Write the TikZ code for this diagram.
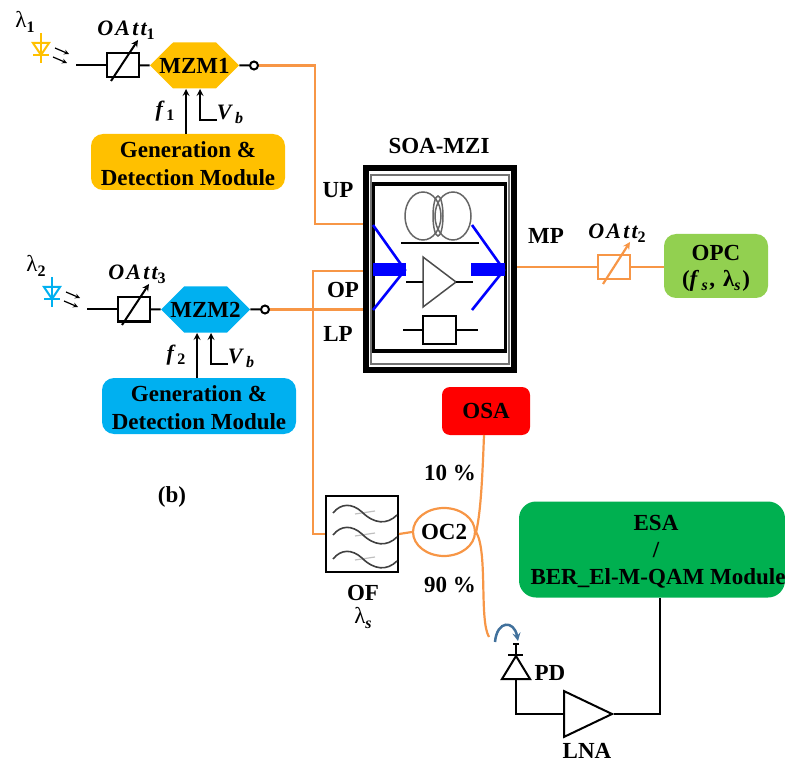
\documentclass[tikz,border=0pt]{standalone}
\usepackage{fontspec}
\setmainfont{Liberation Serif}
\newfontfamily\symfont[LetterSpace=10]{Liberation Serif}
\usetikzlibrary{shapes.geometric,shapes.symbols}
\definecolor{fibre}{HTML}{F79646}
\definecolor{ledyellow}{HTML}{FFC000}
\definecolor{ledblue}{HTML}{00B0F0}
\definecolor{opcgreen}{HTML}{92D050}
\definecolor{esagreen}{HTML}{00B050}
\definecolor{turncol}{HTML}{41719C}
\newcommand{\sublab}[1]{\raisebox{-.4ex}{\fontsize{16}{16}\selectfont #1}}
\newcommand{\symlab}[2]{{\symfont\bfseries\itshape #1\sublab{#2}}}
\tikzset{
  lab/.style={font=\fontsize{23}{27}\selectfont\bfseries, inner sep=0pt, align=center},
  symb/.style={font=\fontsize{22}{24}\selectfont, inner sep=0pt},
  wire/.style={line width=2pt, black},
  fib/.style={line width=2.2pt, fibre},
  module/.style={rounded corners=12pt, minimum width=#1, inner sep=0pt},
  attbox/.style={draw, line width=2pt, minimum width=32pt, minimum height=24pt, inner sep=0pt},
  mzm/.style={signal, signal to=east and west, signal pointer angle=90, minimum width=89pt,
    minimum height=46pt, inner sep=0pt, font=\fontsize{23}{26}\selectfont\bfseries},
  beam/.style={line width=2.6pt, blue},
}
\begin{document}
\begin{tikzpicture}[>=stealth, x=1pt, y=-1pt]
  \useasboundingbox (0,0) rectangle (785,762);
  % Two transmitter branches
  \foreach \i/\dx/\dy/\col/\att in {1/0/0/ledyellow/1, 2/11/244/ledblue/3} {
    \begin{scope}[shift={(\dx,\dy)}]
      % Laser diode
      \draw[line width=2pt, \col] (41,33) -- (41,63) (33,55) -- (49,55);
      \draw[line width=2pt, \col] (33,43) -- (49,43) -- (41,55) -- cycle;
      \draw[->, line width=1.2pt] (55,48) -- (69,54);
      \draw[->, line width=1.2pt] (53,57) -- (67,63);
      \node[lab, font=\fontsize{23}{24}\selectfont] (lam\i) at (25,22) {λ\sublab{\textbf{\i}}};
      % Attenuator and modulator
      \coordinate (in\i) at (76,65.5);
      \node[attbox] (att\i) at (123,65.5) {};
      \draw[->, wire] (111,81) -- (138,40);
      \node[symb] (attlab\i) at (126,30) {\symlab{OAtt}{\upshape\att}};
      \node[mzm, fill=\col] (mzm\i) at (194.5,65.5) {\makebox[0pt]{MZM\i}};
      \node[circle, draw, line width=2pt, minimum size=8pt, inner sep=0pt] (tap\i) at (254,65.5) {};
      \draw[wire] (in\i) -- (att\i);
      \draw[wire] (att\i) -- (mzm\i);
      \draw[wire] (mzm\i) -- (tap\i);
      % Driver module
      \node[module=194pt, fill=\col, minimum height=56pt] (gen\i) at (188,162) {};
      \node[lab] (genlab\i) at (188,150) {Generation \&};
      \node[lab] (detlab\i) at (188,178) {Detection Module};
      \coordinate (fin\i) at (186,89);
      \coordinate (vin\i) at (200,89);
      \coordinate (vbias\i) at (217,120);
      \draw[->, wire] (gen\i.north -| fin\i) -- (fin\i);
      \draw[->, wire] (vbias\i) -| (vin\i);
      \node[symb] (flab\i) at (165,111) {\symlab{f\,}{\upshape\i}};
      \node[symb] (vlab\i) at (230,114) {\symlab{V\,}{b}};
    \end{scope}
  }
  % SOA-MZI block
  \node[lab] (soalab) at (439,146) {SOA-MZI};
  \node[draw, line width=6pt, minimum width=148pt, minimum height=202pt, inner sep=0pt] (soa) at (440,269) {};
  \draw[line width=1.2pt, black!55] (371,175) rectangle (509,364);
  \draw[line width=3.5pt] (373.5,184) rectangle (505.5,351);
  % Coupler
  \draw[line width=1.5pt, black!60] (423,216) ellipse (18 and 24) (453,216) ellipse (18 and 24);
  \draw[line width=1.5pt, black!60] (438,216) ellipse (5 and 20);
  \draw[line width=2.5pt] (401,243) -- (479,243);
  % SOA
  \draw[line width=1.5pt, black!70] (423,257) -- (456,282) -- (423,307) -- cycle;
  \draw[line width=2.5pt] (406,282) -- (423,282) (456,282) -- (473,282);
  % Phase section
  \draw[line width=2.5pt] (423,316) rectangle (456,344);
  \draw[line width=2.5pt] (403,330) -- (423,330) (456,330) -- (478,330);
  % Pump and output beams
  \draw[beam] (373,225) -- (405,270) -- (373,310);
  \draw[line width=13pt, blue] (373,270) -- (406,270);
  \draw[beam] (472,225) -- (504,270) -- (472,310);
  \draw[line width=13pt, blue] (471,270) -- (505,270);
  % Ports
  \coordinate (upbend) at (315,224);
  \coordinate (upport) at (363,224);
  \coordinate (opport) at (363,271);
  \coordinate (opbend) at (313,271);
  \coordinate (lpport) at (363,309.5);
  \coordinate (mpport) at (517,267);
  \node[lab] (uplab) at (338,190) {UP};
  \node[lab] (oplab) at (343,290) {OP};
  \node[lab] (lplab) at (338,334) {LP};
  \node[lab] (mplab) at (546,236) {MP};
  \draw[fib] (tap1.east) -| (upbend) -- (upport);
  \draw[fib] (tap2.east) -- (lpport);
  % Output side
  \node[attbox, draw=fibre] (outatt) at (614,267) {};
  \draw[->, fib] (603,284) -- (630,242);
  \node[symb] (outattlab) at (617,233) {\symlab{OAtt}{\upshape 2}};
  \node[module=104pt, fill=opcgreen, minimum height=64pt] (opc) at (716,266) {};
  \node[lab] (opclab) at (716,253) {OPC};
  \node[lab] (opcsub) at (716,281) {{\symfont\bfseries(\textit{f}\sublab{\textit{s}}, λ\sublab{\textit{s}})}};
  \draw[fib] (mpport) -- (outatt);
  \draw[fib] (outatt) -- (outatt -| opc.west);
  % Filter
  \node[draw, line width=2pt, minimum width=72pt, minimum height=76pt, inner sep=0pt] (of) at (362,534) {};
  \foreach \wy in {0,22,46} {
    \draw[black!25, line width=1.2pt] (355,514+\wy) -- (375,511+\wy);
    \draw[black!75, line width=1.6pt] (333,513+\wy) .. controls (341,503+\wy) and (352,503+\wy) .. (362,512+\wy)
      .. controls (374,524+\wy) and (387,525+\wy) .. (397,515+\wy);
  }
  \node[lab] (oflab) at (363,593) {OF};
  \node[lab, font=\fontsize{23}{24}\selectfont] (oflam) at (363,618) {λ\sublab{\textbf{\textit{s}}}};
  % Coupler and receivers
  \node[ellipse, draw=fibre, line width=2.2pt, minimum width=62pt, minimum height=48pt, inner sep=0pt, font=\fontsize{23}{26}\selectfont\bfseries] (oc) at (444,532) {\makebox[0pt]{OC2}};
  \draw[fib] (opport) -- (opbend) |- (of.west);
  \draw[fib] (of.east) -- (oc.west);
  \node[rounded corners=8pt, fill=red, minimum width=88pt, minimum height=48pt, inner sep=0pt, font=\fontsize{23}{26}\selectfont\bfseries] (osa) at (486,411) {OSA};
  \node[lab] (tenlab) at (450,473) {10 \%};
  \node[lab] (ninelab) at (450,585) {90 \%};
  \coordinate (fibend) at (489,637);
  \coordinate (osain) at (484,435);
  \draw[fib] (oc.east) .. controls (480,515) and (482,490) .. (osain);
  \draw[fib] (oc.east) .. controls (488,552) and (479,620) .. (fibend);
  \draw[->, line width=2.5pt, turncol] (495,642) .. controls (497,620) and (514,620) .. (518,641);
  % Photodiode
  \coordinate (pdtop) at (516,644);
  \coordinate (pdbase) at (516,679);
  \draw[wire] (513,644) -- (519,644) (pdtop) -- (516,655) (508,655) -- (523,655);
  \draw[wire] (516,656) -- (530,679) -- (502,679) -- cycle;
  \node[lab] (pdlab) at (550,673) {PD};
  % Amplifier
  \node[isosceles triangle, isosceles triangle apex angle=51, draw, line width=2pt, minimum height=48pt, inner sep=0pt] (lna) at (578.5,714) {};
  \node[lab] (lnalab) at (587,751) {LNA};
  \draw[wire] (pdbase) |- (lna.west);
  % ESA module
  \node[module=266pt, rounded corners=17pt, fill=esagreen, minimum height=96pt] (esa) at (652,549.5) {};
  \node[lab] (esatop) at (656,523) {ESA};
  \node[lab] (esamid) at (656,550) {/};
  \node[lab] (esabot) at (658,578) {BER\_El-M-QAM Module};
  \coordinate (esain) at (660,597.5);
  \draw[wire] (lna.apex) -| (esain);
  \node[lab] (blab) at (172,497) {(b)};
\end{tikzpicture}
\end{document}
